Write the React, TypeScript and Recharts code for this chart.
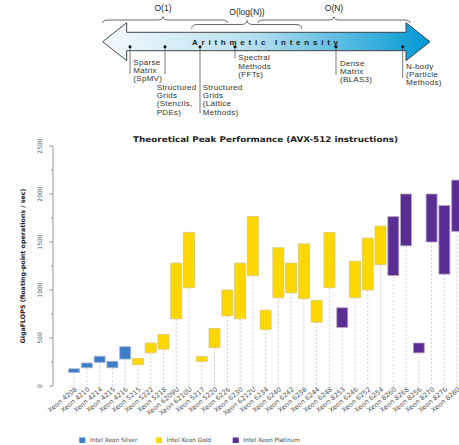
import { BarChart, Bar, XAxis, YAxis, Cell } from 'recharts'

// Processor models in the order they appear on the x axis
const MODELS = [
  'Xeon 4208', 'Xeon 4210', 'Xeon 4214', 'Xeon 4215', 'Xeon 4216',
  'Xeon 5215', 'Xeon 5222', 'Xeon 5218', 'Xeon 6209U', 'Xeon 6210U',
  'Xeon 5217', 'Xeon 5220', 'Xeon 6226', 'Xeon 6230', 'Xeon 6212U',
  'Xeon 6234', 'Xeon 6240', 'Xeon 6242', 'Xeon 6238', 'Xeon 6244',
  'Xeon 6248', 'Xeon 8253', 'Xeon 6246', 'Xeon 6252', 'Xeon 6254',
  'Xeon 8260', 'Xeon 8268', 'Xeon 8256', 'Xeon 8270', 'Xeon 8276', 'Xeon 8280',
]

// 0 = Silver, 1 = Gold, 2 = Platinum
const TIER = [
  0, 0, 0, 0, 0,
  1, 1, 1, 1, 1, 1, 1, 1, 1, 1, 1, 1, 1, 1, 1, 1,
  2, 1, 1, 1,
  2, 2, 2, 2, 2, 2,
]

// GigaFLOPS range (low / high)
const LOW = [
  140, 190, 245, 190, 280,
  222, 345, 384, 700, 1024, 257, 400, 730, 700, 1150, 590, 920, 970, 910, 665, 1024,
  610, 920, 1000, 1265,
  1150, 1460, 345, 1500, 1165, 1610,
]
const HIGH = [
  180, 240, 310, 257, 410,
  288, 448, 538, 1280, 1600, 307, 600, 1000, 1280, 1765, 790, 1440, 1280, 1480, 890, 1600,
  815, 1300, 1540, 1665,
  1765, 2000, 448, 2000, 1880, 2145,
]

const TIER_NAMES = ['Intel Xeon Silver', 'Intel Xeon Gold', 'Intel Xeon Platinum']
const TIER_FILL = ['#3d7cc6', '#ffd700', '#5a2d92']
const TIER_STROKE = ['#a9b9cf', '#d9c66c', '#b5a8c8']

const Y_TICKS = [0, 250, 500, 750, 1000, 1250, 1500, 1750, 2000, 2250, 2500]

// Arithmetic intensity diagram
const KERNELS = [
  { dot: 130, lineEnd: 74, tx: 133.3, ty: 61.7, lines: ['Sparse', 'Matrix', '(SpMV)'] },
  { dot: 165, lineEnd: 74, tx: 156.7, ty: 86.7, lines: ['Structured', 'Grids', '(Stencils,', 'PDEs)'] },
  { dot: 200, lineEnd: 113, tx: 202.7, ty: 86.7, lines: ['Structured', 'Grids', '(Lattice', 'Methods)'] },
  { dot: 235, lineEnd: 58, tx: 238.3, ty: 57.3, lines: ['Spectral', 'Methods', '(FFTs)'] },
  { dot: 336, lineEnd: 75, tx: 340, ty: 62.7, lines: ['Dense', 'Matrix', '(BLAS3)'] },
  { dot: 402.7, lineEnd: 78, tx: 406, ty: 65.7, lines: ['N-body', '(Particle', 'Methods)'] },
]

const BRACES = [
  { label: 'O(1)', x1: 102.7, x2: 227.7, tip: 163, yEnd: 23, yMid: 20, yTip: 16.7, ly: 15 },
  { label: 'O(log(N))', x1: 191.7, x2: 301.7, tip: 247, yEnd: 28.5, yMid: 24.5, yTip: 20.5, ly: 18.5 },
  { label: 'O(N)', x1: 258, x2: 410, tip: 334, yEnd: 23, yMid: 20, yTip: 16.7, ly: 15 },
]

const data = MODELS.map((name, i) => ({
  name,
  tier: TIER[i],
  base: LOW[i],
  span: HIGH[i] - LOW[i],
}))

const FONT = 'DejaVu Sans, Verdana, sans-serif'
const ARIAL = 'Liberation Sans, Arial, sans-serif'

function bracePath(b: typeof BRACES[number]) {
  const q = 6
  return `M${b.x1},${b.yEnd} Q${b.x1},${b.yMid} ${b.x1 + q},${b.yMid} L${b.tip - q},${b.yMid} Q${b.tip},${b.yMid} ${b.tip},${b.yTip} Q${b.tip},${b.yMid} ${b.tip + q},${b.yMid} L${b.x2 - q},${b.yMid} Q${b.x2},${b.yMid} ${b.x2},${b.yEnd}`
}

const DashedBase = (props: any) => {
  const { x, y, width, height } = props
  if (height == null || height <= 0) return null
  const cx = x + width / 2
  return <line x1={cx} x2={cx} y1={y} y2={y + height} stroke="#cfcfcf" strokeWidth={1} strokeDasharray="2 2" />
}

const XTick = (props: any) => {
  const { x, y, payload } = props
  const ax = x + 3.5
  const ay = y + 4
  return (
    <text x={ax} y={ay} transform={`rotate(-40, ${ax}, ${ay})`} textAnchor="end"
      fontSize={6.6} fontFamily={FONT} fill="#555">
      {payload.value}
    </text>
  )
}

const YTick = (props: any) => {
  const { x, y, payload } = props
  const major = payload.value % 500 === 0
  return (
    <g>
      <line x1={x - (major ? 4 : 2)} x2={x} y1={y} y2={y} stroke="#999" strokeWidth={1} />
      {major && (
        <text x={40} y={y} dy="0.35em" transform={`rotate(-90, 40, ${y})`} textAnchor="middle"
          fontSize={6} fontFamily={FONT} fill="#555">
          {payload.value}
        </text>
      )}
    </g>
  )
}

export default function App() {
  return (
    <div style={{ position: 'absolute', left: 0, top: 0, width: 459, height: 445, overflow: 'hidden', background: '#fff' }}>
      <BarChart
        width={478}
        height={445}
        data={data}
        margin={{ top: 146, right: 0, bottom: 0, left: 0 }}
        barSize={11}
      >
        <XAxis
          dataKey="name"
          interval={0}
          height={59}
          axisLine={false}
          tickLine={false}
          tickSize={0}
          tickMargin={0}
          padding={{ left: 14.6, right: 14.6 }}
          tick={<XTick />}
        />
        <YAxis
          width={53}
          domain={[0, 2500]}
          ticks={Y_TICKS}
          interval={0}
          axisLine={{ stroke: '#999' }}
          tickLine={false}
          tickSize={0}
          tickMargin={0}
          tick={<YTick />}
        />
        <Bar dataKey="base" stackId="a" isAnimationActive={false} shape={<DashedBase />} />
        <Bar dataKey="span" stackId="a" isAnimationActive={false} strokeWidth={0.8}>
          {data.map((d, i) => (
            <Cell key={`cell-${i}`} fill={TIER_FILL[d.tier]} stroke={TIER_STROKE[d.tier]} />
          ))}
        </Bar>
      </BarChart>

      <svg width={459} height={445} style={{ position: 'absolute', left: 0, top: 0, pointerEvents: 'none' }}>
        <defs>
          <linearGradient id="ai" x1="0" x2="1" y1="0" y2="0">
            <stop offset="0" stopColor="#f4fafd" />
            <stop offset="0.45" stopColor="#b8e0ef" />
            <stop offset="1" stopColor="#0098d4" />
          </linearGradient>
        </defs>

        {/* complexity braces */}
        {BRACES.map((b) => (
          <g key={b.label}>
            <path d={bracePath(b)} fill="none" stroke="#444" strokeWidth={0.8} />
            <text x={b.tip} y={b.ly - 4} textAnchor="middle" fontSize={8.5} fontFamily={ARIAL} fill="#222">
              {b.label}
            </text>
          </g>
        ))}

        {/* arrow */}
        <path
          d="M102.7,41.7 L126.7,22.7 L126.7,32.3 L406,32.3 L406,22.7 L430,41.7 L406,60.7 L406,50.7 L126.7,50.7 L126.7,60.7 Z"
          fill="url(#ai)" stroke="#333" strokeWidth={0.9} strokeLinejoin="miter"
        />
        <text x={265} y={44.7} textAnchor="middle" fontSize={8} fontWeight="bold" fontFamily={ARIAL}
          fill="#1a1a1a" textLength={146} lengthAdjust="spacing">
          Arithmetic Intensity
        </text>

        {KERNELS.map((k) => (
          <g key={k.lines.join(' ')}>
            <line x1={k.dot} x2={k.dot} y1={46.7} y2={k.lineEnd} stroke="#555" strokeWidth={0.8} />
            <circle cx={k.dot} cy={46.7} r={1.5} fill="#111" />
            {k.lines.map((t, j) => (
              <text key={t} x={k.tx} y={k.ty + 3 + j * 8.3} fontSize={8} letterSpacing={0.3}
                fontFamily={ARIAL} fill="#333">
                {t}
              </text>
            ))}
          </g>
        ))}

        {/* chart title and axis label */}
        <text x={265.5} y={142} textAnchor="middle" fontSize={7.8} fontWeight="bold" fontFamily={FONT}
          fill="#222" textLength={265} lengthAdjust="spacingAndGlyphs">
          Theoretical Peak Performance (AVX-512 instructions)
        </text>
        <text x={22.7} y={266} dy="0.35em" transform="rotate(-90, 22.7, 266)" textAnchor="middle"
          fontSize={6.3} fontWeight="bold" fontFamily={FONT} fill="#222" textLength={155} lengthAdjust="spacingAndGlyphs">
          GigaFLOPS (floating-point operations / sec)
        </text>

        {/* legend */}
        {TIER_NAMES.map((name, i) => {
          const lx = [79.3, 156, 232.7][i]
          return (
            <g key={name}>
              <rect x={lx} y={437.5} width={6} height={5.5} fill={TIER_FILL[i]} />
              <text x={lx + 10.7} y={442.3} fontSize={5.8} fontFamily={FONT} fill="#444">
                {name}
              </text>
            </g>
          )
        })}
      </svg>
    </div>
  )
}
